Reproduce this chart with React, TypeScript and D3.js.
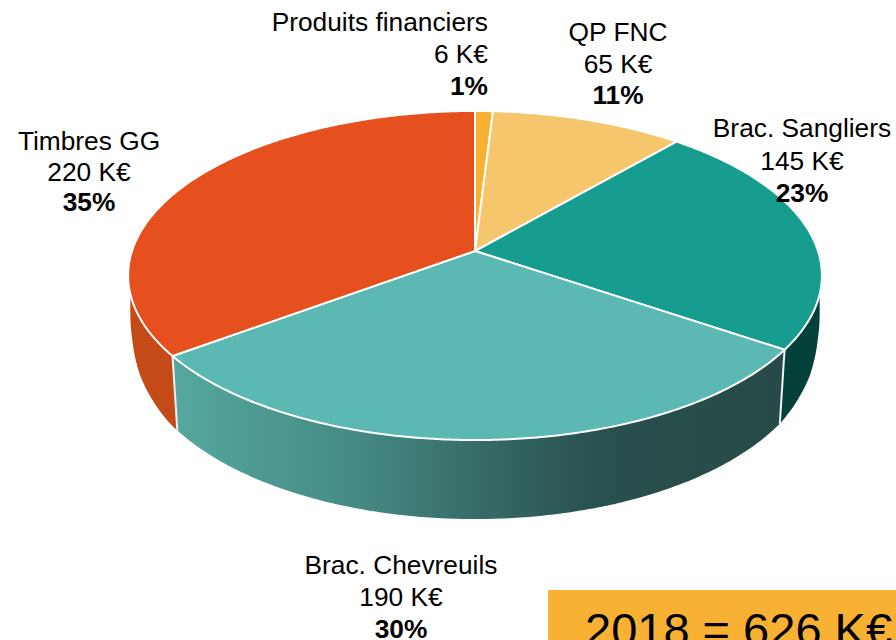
import React from "react";
import * as d3 from "d3";

const categories = ["Produits financiers", "QP FNC", "Brac. Sangliers", "Brac. Chevreuils", "Timbres GG"];
const values = [6, 65, 145, 190, 220];
const percents = ["1%", "11%", "23%", "30%", "35%"];
const totalLabel = "2018 = 626 K€";

const topColors = ["#F7B02F", "#F6C66C", "#169D90", "#5BB8B2", "#E5501E"];
const wallColors = ["#F7B02F", "#F6C66C", "#05413B", "url(#wallGrad)", "#C44A18"];

// label anchor [x, first baseline, text-anchor, line gap]
const labelLayout: [number, number, string, number][] = [
  [488, 31, "end", 32],
  [618, 41, "middle", 31.5],
  [802, 137, "middle", 32.5],
  [401, 574, "middle", 32],
  [89, 150, "middle", 30.5],
];

// Projective mapping of a tilted disc to the screen
const cx = 475, cy = 251, A = 343, B = 123.5, K = -0.149;
const project = (t: number) => {
  const u = Math.sin(t), v = -Math.cos(t), den = 1 + K * v;
  return { x: cx + (A * u) / den, y: (cy + B * v) / den, v };
};
const depth = d3.scaleLinear().domain([0, 0.149, 0.35, 0.56, 1]).range([25, 50, 65, 74, 79]);
const shrink = d3.scaleLinear().domain([0, 0.2, 0.6, 1]).range([1, 0.99, 0.984, 0.984]);
const lower = (t: number) => {
  const p = project(t);
  const v = Math.max(0, p.v);
  return { x: cx + (p.x - cx) * shrink(v), y: p.y + depth(v) };
};

const samples = (a: number, b: number) => {
  const n = Math.max(2, Math.ceil(Math.abs(b - a) / 0.01));
  return d3.range(n + 1).map((i) => a + ((b - a) * i) / n);
};
const line = d3.line<{ x: number; y: number }>().x((d) => d.x).y((d) => d.y);

export default function App() {
  const arcs = d3.pie<number>().sort(null)(values);
  const HALF = Math.PI / 2, TPH = Math.PI * 1.5;
  return (
    <svg
      width={896}
      height={640}
      viewBox="0 0 896 640"
      style={{ position: "absolute", left: 0, top: 0, display: "block", background: "#fff" }}
      fontFamily="'Liberation Sans', Arial, sans-serif"
    >
      <defs>
        <linearGradient id="wallGrad" gradientUnits="userSpaceOnUse" x1={172} x2={785} y1={0} y2={0}>
          <stop offset="0" stopColor="#55A89F" />
          <stop offset="0.3" stopColor="#458A83" />
          <stop offset="0.5" stopColor="#376B67" />
          <stop offset="0.7" stopColor="#28504E" />
          <stop offset="1" stopColor="#274A48" />
        </linearGradient>
      </defs>

      {arcs.map((a, i) => {
        const s = Math.max(a.startAngle, HALF);
        const e = Math.min(a.endAngle, TPH);
        if (e <= s) return null;
        const ts = samples(s, e);
        const pts = [...ts.map(project), ...ts.slice().reverse().map(lower)];
        return (
          <path key={"w" + i} d={line(pts) + "Z"} fill={wallColors[i]} />
        );
      })}

      {arcs.slice(2, 4).map((a, i) => {
        const tp = project(a.endAngle), lo = lower(a.endAngle);
        return (
          <line key={"e" + i} x1={tp.x} y1={tp.y} x2={lo.x} y2={lo.y} stroke="#F2F2F2" strokeWidth={2} />
        );
      })}

      {arcs.map((a, i) => {
        const pts = [{ x: cx, y: cy }, ...samples(a.startAngle, a.endAngle).map(project)];
        return (
          <path
            key={"t" + i}
            d={line(pts) + "Z"}
            fill={topColors[i]}
            stroke="#fff"
            strokeWidth={2}
            strokeLinejoin="round"
          />
        );
      })}

      {categories.map((c, i) => {
        const [x, y, anchor, gap] = labelLayout[i];
        return (
          <text key={c} x={x} textAnchor={anchor as any} fontSize={26.3} fill="#000">
            <tspan x={x} y={y}>{c}</tspan>
            <tspan x={x} y={y + gap}>{values[i]} K€</tspan>
            <tspan x={x} y={y + gap * 2} fontWeight="bold">{percents[i]}</tspan>
          </text>
        );
      })}

      <rect x={548} y={590} width={348} height={50} fill="#F8B133" />
      <text x={585} y={646} fontSize={47} fill="#000">{totalLabel}</text>
    </svg>
  );
}
